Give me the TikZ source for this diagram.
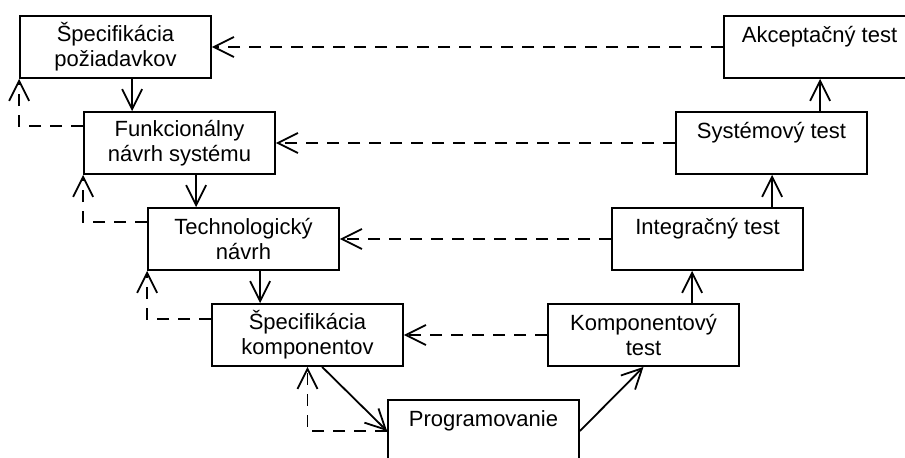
\documentclass[tikz,border=0pt]{standalone}
\usepackage{fontspec}
\setmainfont{Liberation Sans}
\usetikzlibrary{arrows.meta,positioning}

\begin{document}
\begin{tikzpicture}[x=0.5pt,y=-0.5pt,
    stage/.style={draw, line width=0.9pt, minimum width=95.5pt, minimum height=31pt, inner sep=0pt, align=center, font=\fontsize{11}{12.5}\selectfont},
    flow/.style={line width=0.9pt, -{Straight Barb[length=10pt,width=10pt]}},
    back/.style={flow, dash pattern=on 6pt off 4.5pt}]
    \useasboundingbox (0,0) rectangle (905,457);
    \clip (0,0) rectangle (905,457);
    % Left branch
    \node[stage] (req) at (115.5,47) {Špecifikácia\\požiadavkov};
    \node[stage] (fun) at (179.5,143) {Funkcionálny\\návrh systému};
    \node[stage] (tech) at (243.5,239) {Technologický\\návrh};
    \node[stage] (comp) at (307.5,335) {Špecifikácia\\komponentov};
    \node[stage] (prog) at (483.5,431) {Programovanie\\\mbox{}};
    % Right branch
    \node[stage] (ctest) at (643.5,335) {Komponentový\\test};
    \node[stage] (itest) at (707.5,239) {Integračný test\\\mbox{}};
    \node[stage] (stest) at (771.5,143) {Systémový test\\\mbox{}};
    \node[stage] (atest) at (819.5,47) {Akceptačný test\\\mbox{}};
    % Down and up
    \draw[flow] ([xshift=56.5pt]req.south west) -- ([xshift=24.5pt]fun.north west);
    \draw[flow] ([xshift=56.5pt]fun.south west) -- ([xshift=24.5pt]tech.north west);
    \draw[flow] ([xshift=56.5pt]tech.south west) -- ([xshift=24.5pt]comp.north west);
    \draw[flow] ([xshift=55.5pt]comp.south west) -- (prog.west);
    \draw[flow] (prog.east) -- (ctest.south);
    \draw[flow] ([xshift=72.5pt]ctest.north west) -- ([xshift=40.5pt]itest.south west);
    \draw[flow] ([xshift=80.5pt]itest.north west) -- ([xshift=48.5pt]stest.south west);
    \draw[flow] ([xshift=72.5pt]stest.north west) -- ([xshift=48.5pt]atest.south west);
    % Tests back to stages
    \draw[back] (atest.west) -- (req.east);
    \draw[back] (stest.west) -- (fun.east);
    \draw[back] (itest.west) -- (tech.east);
    \draw[back] (ctest.west) -- (comp.east);
    % Feedback
    \draw[back] ([yshift=-7.5pt]fun.north west) -| (req.south west);
    \draw[back] ([yshift=-7.5pt]tech.north west) -| (fun.south west);
    \draw[back] ([yshift=-8pt]comp.north west) -| (tech.south west);
    \draw[back] (prog.west) -| (comp.south);
\end{tikzpicture}
\end{document}
